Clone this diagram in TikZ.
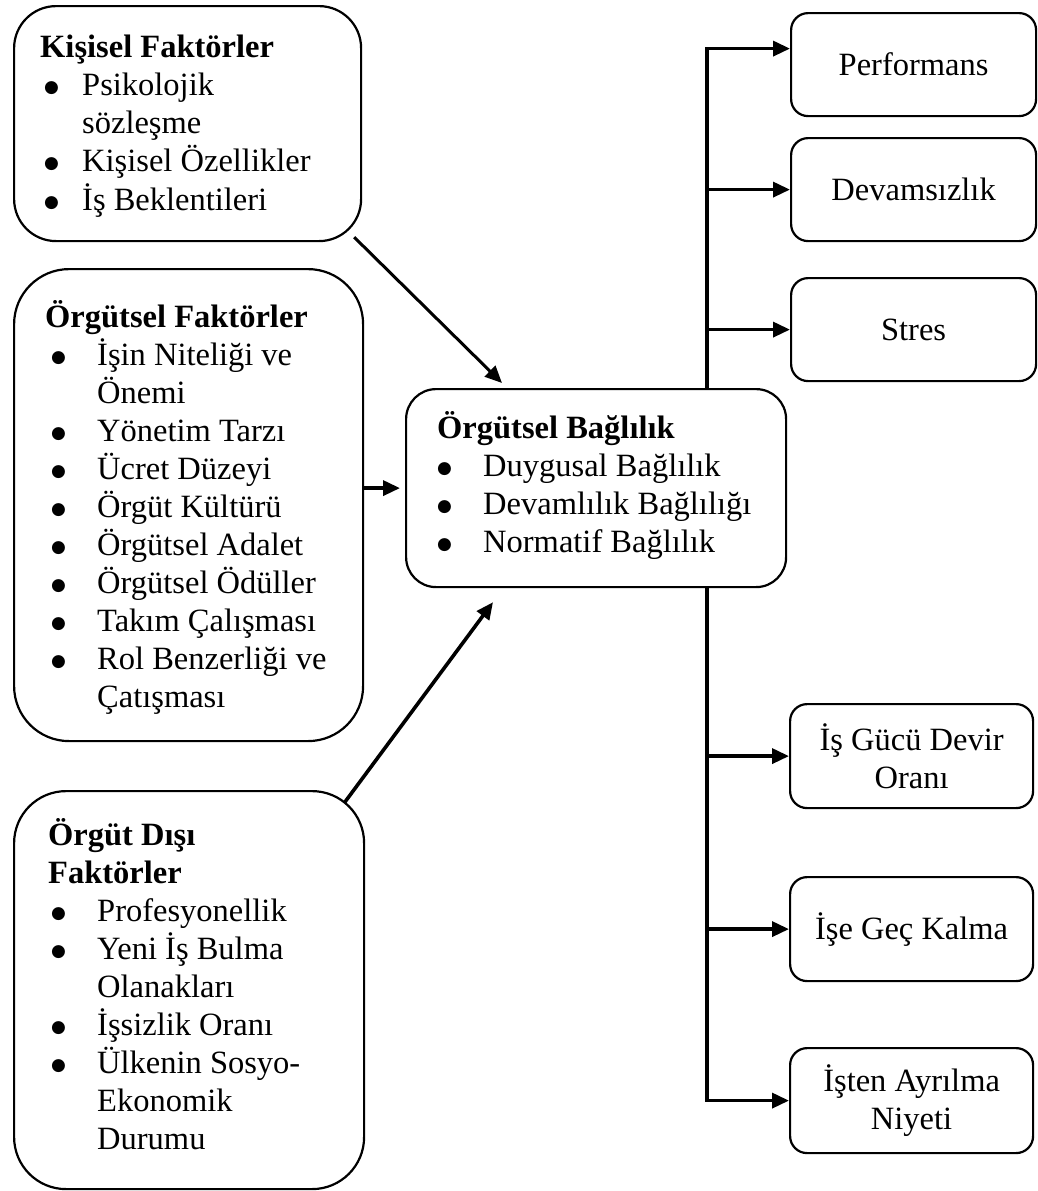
\documentclass[tikz,border=0pt]{standalone}
\usepackage{fontspec}
\setmainfont{Liberation Serif}
\newfontfamily\symfont{DejaVu Sans}
\usetikzlibrary{arrows.meta,calc}
\newcommand{\bt}{\raisebox{3pt}{\fontsize{17}{17}\symfont ●}}
\begin{document}
\begin{tikzpicture}[x=1pt,y=-1pt,
  every node/.style={font=\fontsize{32.5}{38}\selectfont},
  box/.style={draw, line width=2.2pt, rounded corners=#1, inner sep=0pt, anchor=north west},
  rbox/.style={draw, line width=2.2pt, rounded corners=17pt, inner sep=0pt, align=center,
    minimum width=245pt, minimum height=103pt, anchor=north west},
  txt/.style={inner sep=0pt, anchor=north west},
  arr/.style={line width=3.6pt, -{Triangle[length=17pt,width=15pt]}},
  arrthin/.style={line width=3pt, -{Triangle[length=17pt,width=15pt]}},
]
\useasboundingbox (0,0) rectangle (1037,1191);

% left boxes
\node[box=42pt, minimum width=347pt, minimum height=235pt] (kisisel) at (13,5) {};
\node[txt] (kisiselT) at (40,31) {\begin{tabular}{@{}p{42pt}@{}l@{}}
\multicolumn{2}{@{}l@{}}{\textbf{Kişisel Faktörler}}\\
\hspace{4pt}\bt & Psikolojik\\
 & sözleşme\\
\hspace{4pt}\bt & Kişisel Özellikler\\
\hspace{4pt}\bt & İş Beklentileri
\end{tabular}};

\node[box=55pt, minimum width=349pt, minimum height=472pt] (orgutsel) at (13,268) {};
\node[txt] (orgutselT) at (45,300) {\begin{tabular}{@{}p{52pt}@{}l@{}}
\multicolumn{2}{@{}l@{}}{\textbf{Örgütsel Faktörler}}\\
\hspace{6pt}\bt & İşin Niteliği ve\\
 & Önemi\\
\hspace{6pt}\bt & Yönetim Tarzı\\
\hspace{6pt}\bt & Ücret Düzeyi\\
\hspace{6pt}\bt & Örgüt Kültürü\\
\hspace{6pt}\bt & Örgütsel Adalet\\
\hspace{6pt}\bt & Örgütsel Ödüller\\
\hspace{6pt}\bt & Takım Çalışması\\
\hspace{6pt}\bt & Rol Benzerliği ve\\
 & Çatışması
\end{tabular}};

\node[box=52pt, minimum width=350pt, minimum height=398pt] (disi) at (13,790) {};
\node[txt] (disiT) at (48,818) {\begin{tabular}{@{}p{49pt}@{}l@{}}
\multicolumn{2}{@{}l@{}}{\textbf{Örgüt Dışı}}\\
\multicolumn{2}{@{}l@{}}{\textbf{Faktörler}}\\
\hspace{3pt}\bt & Profesyonellik\\
\hspace{3pt}\bt & Yeni İş Bulma\\
 & Olanakları\\
\hspace{3pt}\bt & İşsizlik Oranı\\
\hspace{3pt}\bt & Ülkenin Sosyo-\\
 & Ekonomik\\
 & Durumu
\end{tabular}};

% central box
\node[box=30pt, minimum width=380pt, minimum height=198pt] (merkez) at (405,388) {};
\node[txt] (merkezT) at (437,411) {\begin{tabular}{@{}p{46pt}@{}l@{}}
\multicolumn{2}{@{}l@{}}{\textbf{Örgütsel Bağlılık}}\\
\hspace{0pt}\bt & Duygusal Bağlılık\\
\hspace{0pt}\bt & Devamlılık Bağlılığı\\
\hspace{0pt}\bt & Normatif Bağlılık
\end{tabular}};

% right boxes
\node[rbox] (perf) at (790,12) {Performans};
\node[rbox] (dev) at (790,137) {Devamsızlık};
\node[rbox] (stres) at (790,277) {Stres};
\node[rbox, minimum width=243pt, minimum height=104pt] (isgucu) at (789,703) {İş Gücü Devir\\Oranı};
\node[rbox, minimum width=243pt, minimum height=104pt] (gec) at (789,876) {İşe Geç Kalma};
\node[rbox, minimum width=243pt, minimum height=105pt] (isten) at (789,1047) {İşten Ayrılma\\Niyeti};

\coordinate (tr) at (707,0);

% inputs
\draw[arrthin] ([xshift=-8pt,yshift=5pt]kisisel.south east) -- ([xshift=97pt,yshift=5pt]merkez.north west);
\draw[arr] (orgutsel.east |- merkez.west) -- ([xshift=-5pt]merkez.west);
\draw[arr] ([xshift=-21pt,yshift=-13pt]disi.north east) -- ([xshift=88pt,yshift=-14pt]merkez.south west);

% outputs
\draw[arr] (tr |- merkez.north) |- ([yshift=16pt]perf.west);
\draw[arr] (tr |- dev.west) -- (dev.west);
\draw[arr] (tr |- stres.west) -- (stres.west);
\draw[arr] (tr |- merkez.south) |- (isten.west);
\draw[arr] (tr |- isgucu.west) -- (isgucu.west);
\draw[arr] (tr |- gec.west) -- (gec.west);
\end{tikzpicture}
\end{document}
